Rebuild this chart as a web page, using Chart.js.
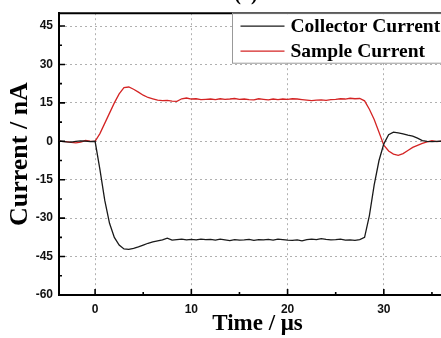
<!DOCTYPE html>
<html>
<head>
<meta charset="utf-8">
<script src="https://cdn.jsdelivr.net/npm/chart.js@4"></script>
<style>
  html, body { margin: 0; padding: 0; background: #fff; overflow: hidden; }
  #wrap { width: 460px; height: 338px; }
</style>
</head>
<body>
<div id="wrap"><canvas id="chart" width="460" height="338"></canvas></div>
<script>
// time axis, microseconds
var times = [
  -4, -3.5, -3, -2.5, -2, -1.5, -1, -0.5, 0,
  0.5, 1, 1.5, 2, 2.5, 3, 3.5, 4, 4.5, 5,
  5.5, 6, 6.5, 7, 7.5, 8, 8.5, 9, 9.5, 10,
  10.5, 11, 11.5, 12, 12.5, 13, 13.5, 14, 14.5, 15,
  15.5, 16, 16.5, 17, 17.5, 18, 18.5, 19, 19.5, 20,
  20.5, 21, 21.5, 22, 22.5, 23, 23.5, 24, 24.5, 25,
  25.5, 26, 26.5, 27, 27.5, 28, 28.5, 29, 29.5, 30,
  30.5, 31, 31.5, 32, 32.5, 33, 33.5, 34, 34.5, 35,
  35.5, 36, 36.5, 37
];

var collectorCurrent = [
  0.1, 0, -0.2, -0.3, 0, 0.2, 0.1, -0.1, 0,
  -11, -23, -32, -37.5, -40.5, -42, -42.2, -41.8, -41.2, -40.5,
  -39.8, -39.3, -38.9, -38.5, -37.8, -38.6, -38.4, -38.2, -38.5, -38.3,
  -38.5, -38.2, -38.4, -38.3, -38.6, -38.2, -38.5, -38.8, -38.4, -38.6,
  -38.5, -38.3, -38.7, -38.4, -38.5, -38.3, -38.6, -38.2, -38.4, -38.6,
  -38.7, -38.5, -38.9, -38.4, -38.2, -38.4, -38.0, -38.3, -38.5, -38.4,
  -38.2, -38.6, -38.5, -38.7, -38.4, -37.5, -29, -17, -7.5, -1,
  2.6, 3.6, 3.3, 2.9, 2.4, 2.0, 1.2, 0.3, 0, -0.1,
  0, 0.1, 0, 0.1
];

var sampleCurrent = [
  0.2, 0, -0.1, -0.4, -0.6, -0.3, 0.3, 0.1, 0,
  3, 7, 11, 15, 18.5, 21, 21.2, 20.3, 19.2, 18,
  17.1, 16.6, 16.1, 15.9, 16, 15.7, 15.6, 16.6, 16.9, 16.5,
  16.6, 16.3, 16.4, 16.5, 16.3, 16.6, 16.4, 16.5, 16.7, 16.4,
  16.5, 16.3, 16.2, 16.6, 16.4, 16.2, 16.5, 16.3, 16.5, 16.4,
  16.6, 16.5, 16.3, 16.1, 15.9, 16.1, 16.2, 16.0, 16.3, 16.4,
  16.6, 16.5, 16.8, 16.6, 16.7, 15.8, 12.5, 8.5, 3.5, -1.5,
  -3.8, -5.0, -5.5, -4.8, -3.6, -2.4, -1.6, -0.8, -0.2, 0.2,
  -0.1, 0.1, 0, -0.1
];

var xTickValues = [0, 10, 20, 30];
var xMinorValues = [5, 15, 25, 35];
var yTickValues = [-60, -45, -30, -15, 0, 15, 30, 45];
var yMinorValues = [-52.5, -37.5, -22.5, -7.5, 7.5, 22.5, 37.5];

function toPoints(vals) {
  return vals.map(function (v, i) { return { x: times[i], y: v }; });
}

// inner tick marks, top border, "(a)" and the boxed legend
var frame = {
  id: 'frame',
  afterDatasetsDraw: function (chart) {
    var c = chart.ctx, a = chart.chartArea;
    var xs = chart.scales.x, ys = chart.scales.y;
    c.save();
    c.strokeStyle = '#000';
    c.lineWidth = 1.6;
    c.beginPath();
    xTickValues.forEach(function (v) {
      var px = xs.getPixelForValue(v);
      c.moveTo(px, a.bottom); c.lineTo(px, a.bottom - 6);
    });
    xMinorValues.forEach(function (v) {
      var px = xs.getPixelForValue(v);
      c.moveTo(px, a.bottom); c.lineTo(px, a.bottom - 3);
    });
    yTickValues.forEach(function (v) {
      var py = ys.getPixelForValue(v);
      c.moveTo(a.left, py); c.lineTo(a.left + 6, py);
    });
    yMinorValues.forEach(function (v) {
      var py = ys.getPixelForValue(v);
      c.moveTo(a.left, py); c.lineTo(a.left + 3, py);
    });
    c.stroke();

    c.lineWidth = 2;
    c.beginPath();
    c.moveTo(a.left - 1, a.top); c.lineTo(a.right, a.top);
    c.stroke();

    // legend
    var lx = 232.5, ly = a.top, lw = 260, lh = 50;
    c.fillStyle = '#fff';
    c.fillRect(lx, ly + 1, lw, lh - 1);
    c.strokeStyle = '#999';
    c.lineWidth = 1;
    c.strokeRect(lx, ly, lw, lh);
    c.font = 'bold 19.5px "Liberation Serif", "Times New Roman", serif';
    c.textBaseline = 'middle';
    chart.data.datasets.forEach(function (ds, i) {
      var y = ly + 13 + i * 25;
      c.strokeStyle = ds.borderColor;
      c.lineWidth = 1.3;
      c.beginPath();
      c.moveTo(lx + 8, y); c.lineTo(lx + 52, y);
      c.stroke();
      c.fillStyle = '#000';
      c.fillText(ds.label, lx + 58, y + 1);
    });

    c.font = 'bold 20px "Liberation Serif", serif';
    c.textAlign = 'center';
    c.textBaseline = 'alphabetic';
    c.fillText('(a)', 246, 0);
    c.restore();
  }
};

new Chart(document.getElementById('chart'), {
  type: 'line',
  data: {
    datasets: [{
      label: 'Collector Current',
      data: toPoints(collectorCurrent),
      borderColor: '#1a1a1a',
      borderWidth: 1.3,
      pointRadius: 0
    }, {
      label: 'Sample Current',
      data: toPoints(sampleCurrent),
      borderColor: '#d42424',
      borderWidth: 1.3,
      pointRadius: 0
    }]
  },
  options: {
    responsive: false,
    animation: false,
    layout: { padding: { left: 0, right: 4, top: 11, bottom: 0 } },
    plugins: {
      legend: { display: false },
      tooltip: { enabled: false }
    },
    scales: {
      x: {
        type: 'linear',
        min: -3.75,
        max: 37.5,
        afterBuildTicks: function (s) { s.ticks = xTickValues.map(function (v) { return { value: v }; }); },
        afterFit: function (s) { s.height = 43; },
        grid: { color: '#b0b0b0', lineWidth: 1, drawTicks: false },
        border: { display: true, color: '#000', width: 2, dash: [2, 3] },
        ticks: {
          padding: 7,
          color: '#111',
          font: { family: 'Liberation Sans', weight: 'bold', size: 12 }
        },
        title: {
          display: true,
          text: 'Time / μs',
          color: '#000',
          padding: { top: 0, bottom: 0 },
          font: { family: 'Liberation Serif', weight: 'bold', size: 23 }
        }
      },
      y: {
        min: -60,
        max: 50,
        afterBuildTicks: function (s) { s.ticks = yTickValues.map(function (v) { return { value: v }; }); },
        afterFit: function (s) { s.width = 59; },
        grid: { color: '#b0b0b0', lineWidth: 1, drawTicks: false },
        border: { display: true, color: '#000', width: 2, dash: [2, 3] },
        ticks: {
          padding: 6,
          color: '#111',
          font: { family: 'Liberation Sans', weight: 'bold', size: 12 }
        },
        title: {
          display: true,
          text: 'Current / nA',
          color: '#000',
          padding: { top: 5, bottom: 0 },
          font: { family: 'Liberation Serif', weight: 'bold', size: 26 }
        }
      }
    }
  },
  plugins: [frame]
});
</script>
</body>
</html>
